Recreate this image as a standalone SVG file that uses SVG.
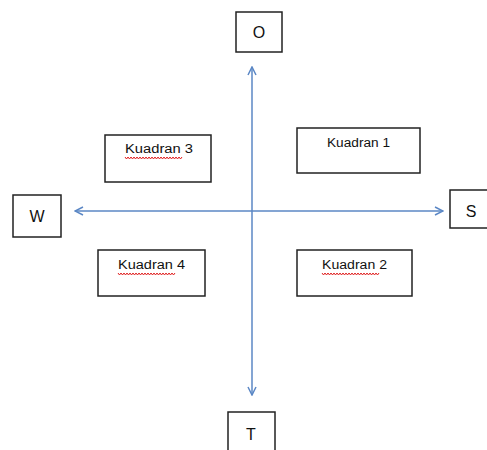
<svg xmlns="http://www.w3.org/2000/svg" width="487" height="450" viewBox="0 0 487 450">
  <defs>
    <style>
      .box { fill: #ffffff; stroke: #222222; stroke-width: 1.5; }
      .lbl { font-family: "Liberation Sans", Arial, sans-serif; fill: #111111; }
      .big { font-size: 16px; text-anchor: middle; }
      .small { font-size: 12px; }
      .axis { stroke: #5b87c5; stroke-width: 1.5; fill: none; }
      .wave { stroke: #e02020; stroke-width: 1; fill: none; }
    </style>
    <marker id="head" viewBox="0 0 10 10" refX="9" refY="5" markerWidth="10" markerHeight="10" markerUnits="userSpaceOnUse" orient="auto-start-reverse">
      <path d="M1,1 L9,5 L1,9" fill="none" stroke="#5b87c5" stroke-width="1.5"/>
    </marker>
    <!-- spell-check squiggle, repeated under each flagged label -->
    <path id="squiggle" class="wave" d="M0,0 l1.5,2 l1.5,-2 l1.5,2 l1.5,-2 l1.5,2 l1.5,-2 l1.5,2 l1.5,-2 l1.5,2 l1.5,-2 l1.5,2 l1.5,-2 l1.5,2 l1.5,-2 l1.5,2 l1.5,-2 l1.5,2 l1.5,-2 l1.5,2 l1.5,-2 l1.5,2 l1.5,-2 l1.5,2 l1.5,-2 l1.5,2 l1.5,-2 l1.5,2 l1.5,-2 l1.5,2 l1.5,-2 l1.5,2 l1.5,-2 l1.5,2 l1.5,-2 l1.5,2 l1.5,-2 l1.5,2 l1.5,-2"/>
  </defs>
  <rect width="487" height="450" fill="#ffffff"/>

  <g id="connectors">
    <line class="axis" x1="252" y1="67" x2="252" y2="395" marker-start="url(#head)" marker-end="url(#head)"/>
    <line class="axis" x1="75" y1="211" x2="443" y2="211" marker-start="url(#head)" marker-end="url(#head)"/>
  </g>

  <g id="node-o">
    <rect class="box" x="236" y="12" width="46" height="40"/>
    <text class="lbl big" x="259" y="38">O</text>
  </g>
  <g id="node-t">
    <rect class="box" x="228" y="412" width="47" height="45"/>
    <text class="lbl big" x="251" y="440">T</text>
  </g>
  <g id="node-w">
    <rect class="box" x="13" y="195" width="48" height="42"/>
    <text class="lbl big" x="37" y="222">W</text>
  </g>
  <g id="node-s">
    <rect class="box" x="450" y="190" width="45" height="38"/>
    <text class="lbl big" x="471" y="217">S</text>
  </g>

  <g id="kuadran-3">
    <rect class="box" x="105" y="135" width="106" height="47"/>
    <text class="lbl small" x="125" y="153" textLength="68" lengthAdjust="spacingAndGlyphs">Kuadran 3</text>
    <use href="#squiggle" x="125" y="157"/>
  </g>
  <g id="kuadran-1">
    <rect class="box" x="297" y="128" width="123" height="45"/>
    <text class="lbl small" x="327" y="147" textLength="63" lengthAdjust="spacingAndGlyphs">Kuadran 1</text>
  </g>
  <g id="kuadran-4">
    <rect class="box" x="98" y="250" width="107" height="46"/>
    <text class="lbl small" x="118" y="269" textLength="67" lengthAdjust="spacingAndGlyphs">Kuadran 4</text>
    <use href="#squiggle" x="118" y="273"/>
  </g>
  <g id="kuadran-2">
    <rect class="box" x="297" y="250" width="115" height="46"/>
    <text class="lbl small" x="322" y="269" textLength="65" lengthAdjust="spacingAndGlyphs">Kuadran 2</text>
    <use href="#squiggle" x="322" y="273"/>
  </g>
</svg>
